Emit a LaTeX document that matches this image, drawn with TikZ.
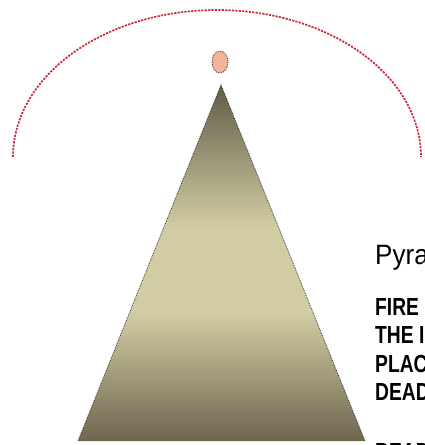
\documentclass[tikz,border=0pt]{standalone}
\usepackage{fontspec}
\setmainfont{Liberation Sans}
\newfontfamily\headfont[FakeStretch=0.93]{Liberation Sans}
\newfontfamily\bodyfont[FakeStretch=0.78]{Liberation Sans}
\usetikzlibrary{positioning}

\definecolor{arcred}{RGB}{205,40,60}
\definecolor{flame}{RGB}{244,180,154}
\definecolor{olivedark}{RGB}{96,92,70}
\definecolor{olivelight}{RGB}{210,204,164}
\definecolor{olivebottom}{RGB}{110,102,78}

% top of the pyramid dark, light band, darker foot
\pgfdeclareverticalshading{pyramidglow}{100bp}{
	color(0bp)=(olivebottom); color(25bp)=(olivebottom); color(43bp)=(olivelight);
	color(55bp)=(olivelight); color(75bp)=(olivedark); color(100bp)=(olivedark)}

\begin{document}
\begin{tikzpicture}[
		x=1pt, y=-1pt,
		orbit/.style={arcred, line width=1.7pt, dash pattern=on 2.2pt off 1.2pt},
		edge/.style={black!80, line width=0.8pt, densely dotted},
		heading/.style={anchor=base west, inner sep=0pt, font=\headfont\fontsize{28}{30}\selectfont},
		body/.style={anchor=base west, inner sep=0pt, font=\bodyfont\bfseries\fontsize{24.7}{28}\selectfont}
		]
		
		% Frame of the picture, text runs off the right edge
		\useasboundingbox (0,0) rectangle (425,445);
		\clip (0,0) rectangle (425,445);
		
		% Dotted arc above the pyramid
		\draw[orbit] (13,157) arc[start angle=180, end angle=0, x radius=204, y radius=-147];
		
		% Pyramid with its glow on top
		\coordinate (apex) at (221,85);
		\coordinate (baseL) at (78,441);
		\coordinate (baseR) at (365,441);
		\shade[shading=pyramidglow] (apex) -- (baseR) -- (baseL) -- cycle;
		\draw[edge] (baseL) -- (apex) -- (baseR);
		\draw[edge, fill=flame] (220,62) ellipse[x radius=8, y radius=11];
		
		% Text on the right
		\node[heading] (title) at (375,264) {Pyra};
		\node[body] (fire) at (375,315) {FIRE};
		\node[body] (the) at (375,343.5) {THE I};
		\node[body] (plac) at (375,372) {PLAC};
		\node[body] (dead) at (375,400.5) {DEAD};
		\node[body] (bead) at (375,460) {BEAD};
		
	\end{tikzpicture}
\end{document}
